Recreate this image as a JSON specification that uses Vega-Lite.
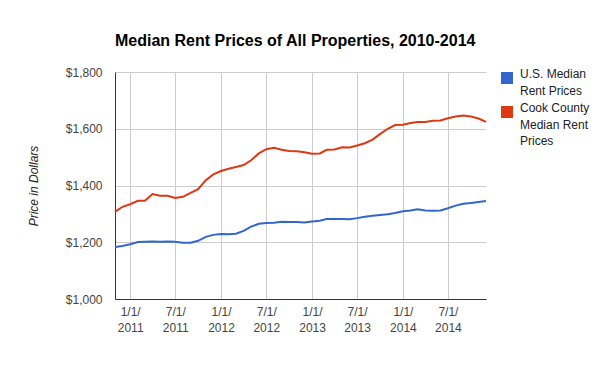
{
  "$schema": "https://vega.github.io/schema/vega-lite/v6.json",
  "width": 371,
  "height": 227,
  "autosize": {"type": "none"},
  "padding": {"left": 115, "top": 72, "right": 114, "bottom": 72},
  "background": "white",
  "config": {"font": "Liberation Sans", "view": {"stroke": null}, "style": {"guide-label": {"lineHeight": 16.5}}},
  "title": {
    "text": "Median Rent Prices of All Properties, 2010-2014",
    "anchor": "start",
    "frame": "group",
    "fontSize": 16,
    "fontWeight": "bold",
    "color": "#000000",
    "font": "Liberation Sans",
    "offset": 17
  },
  "data": {
    "values": [
      {"date": "2010-11-01", "series": "U.S. Median Rent Prices", "price": 1183},
      {"date": "2010-12-01", "series": "U.S. Median Rent Prices", "price": 1187},
      {"date": "2011-01-01", "series": "U.S. Median Rent Prices", "price": 1193},
      {"date": "2011-02-01", "series": "U.S. Median Rent Prices", "price": 1201},
      {"date": "2011-03-01", "series": "U.S. Median Rent Prices", "price": 1202},
      {"date": "2011-04-01", "series": "U.S. Median Rent Prices", "price": 1203},
      {"date": "2011-05-01", "series": "U.S. Median Rent Prices", "price": 1202},
      {"date": "2011-06-01", "series": "U.S. Median Rent Prices", "price": 1203},
      {"date": "2011-07-01", "series": "U.S. Median Rent Prices", "price": 1202},
      {"date": "2011-08-01", "series": "U.S. Median Rent Prices", "price": 1198},
      {"date": "2011-09-01", "series": "U.S. Median Rent Prices", "price": 1198},
      {"date": "2011-10-01", "series": "U.S. Median Rent Prices", "price": 1205},
      {"date": "2011-11-01", "series": "U.S. Median Rent Prices", "price": 1219},
      {"date": "2011-12-01", "series": "U.S. Median Rent Prices", "price": 1226},
      {"date": "2012-01-01", "series": "U.S. Median Rent Prices", "price": 1229},
      {"date": "2012-02-01", "series": "U.S. Median Rent Prices", "price": 1228},
      {"date": "2012-03-01", "series": "U.S. Median Rent Prices", "price": 1230},
      {"date": "2012-04-01", "series": "U.S. Median Rent Prices", "price": 1240},
      {"date": "2012-05-01", "series": "U.S. Median Rent Prices", "price": 1255},
      {"date": "2012-06-01", "series": "U.S. Median Rent Prices", "price": 1265},
      {"date": "2012-07-01", "series": "U.S. Median Rent Prices", "price": 1268},
      {"date": "2012-08-01", "series": "U.S. Median Rent Prices", "price": 1269},
      {"date": "2012-09-01", "series": "U.S. Median Rent Prices", "price": 1272},
      {"date": "2012-10-01", "series": "U.S. Median Rent Prices", "price": 1271},
      {"date": "2012-11-01", "series": "U.S. Median Rent Prices", "price": 1271},
      {"date": "2012-12-01", "series": "U.S. Median Rent Prices", "price": 1270},
      {"date": "2013-01-01", "series": "U.S. Median Rent Prices", "price": 1273},
      {"date": "2013-02-01", "series": "U.S. Median Rent Prices", "price": 1276},
      {"date": "2013-03-01", "series": "U.S. Median Rent Prices", "price": 1282},
      {"date": "2013-04-01", "series": "U.S. Median Rent Prices", "price": 1282},
      {"date": "2013-05-01", "series": "U.S. Median Rent Prices", "price": 1282},
      {"date": "2013-06-01", "series": "U.S. Median Rent Prices", "price": 1281},
      {"date": "2013-07-01", "series": "U.S. Median Rent Prices", "price": 1285},
      {"date": "2013-08-01", "series": "U.S. Median Rent Prices", "price": 1290},
      {"date": "2013-09-01", "series": "U.S. Median Rent Prices", "price": 1293},
      {"date": "2013-10-01", "series": "U.S. Median Rent Prices", "price": 1296},
      {"date": "2013-11-01", "series": "U.S. Median Rent Prices", "price": 1299},
      {"date": "2013-12-01", "series": "U.S. Median Rent Prices", "price": 1303},
      {"date": "2014-01-01", "series": "U.S. Median Rent Prices", "price": 1309},
      {"date": "2014-02-01", "series": "U.S. Median Rent Prices", "price": 1312},
      {"date": "2014-03-01", "series": "U.S. Median Rent Prices", "price": 1316},
      {"date": "2014-04-01", "series": "U.S. Median Rent Prices", "price": 1312},
      {"date": "2014-05-01", "series": "U.S. Median Rent Prices", "price": 1311},
      {"date": "2014-06-01", "series": "U.S. Median Rent Prices", "price": 1312},
      {"date": "2014-07-01", "series": "U.S. Median Rent Prices", "price": 1320},
      {"date": "2014-08-01", "series": "U.S. Median Rent Prices", "price": 1329},
      {"date": "2014-09-01", "series": "U.S. Median Rent Prices", "price": 1336},
      {"date": "2014-10-01", "series": "U.S. Median Rent Prices", "price": 1338},
      {"date": "2014-11-01", "series": "U.S. Median Rent Prices", "price": 1342},
      {"date": "2014-12-01", "series": "U.S. Median Rent Prices", "price": 1345},
      {"date": "2010-11-01", "series": "Cook County Median Rent Prices", "price": 1307},
      {"date": "2010-12-01", "series": "Cook County Median Rent Prices", "price": 1325},
      {"date": "2011-01-01", "series": "Cook County Median Rent Prices", "price": 1334},
      {"date": "2011-02-01", "series": "Cook County Median Rent Prices", "price": 1346},
      {"date": "2011-03-01", "series": "Cook County Median Rent Prices", "price": 1346},
      {"date": "2011-04-01", "series": "Cook County Median Rent Prices", "price": 1370},
      {"date": "2011-05-01", "series": "Cook County Median Rent Prices", "price": 1364},
      {"date": "2011-06-01", "series": "Cook County Median Rent Prices", "price": 1364},
      {"date": "2011-07-01", "series": "Cook County Median Rent Prices", "price": 1356},
      {"date": "2011-08-01", "series": "Cook County Median Rent Prices", "price": 1360},
      {"date": "2011-09-01", "series": "Cook County Median Rent Prices", "price": 1374},
      {"date": "2011-10-01", "series": "Cook County Median Rent Prices", "price": 1387},
      {"date": "2011-11-01", "series": "Cook County Median Rent Prices", "price": 1419},
      {"date": "2011-12-01", "series": "Cook County Median Rent Prices", "price": 1439},
      {"date": "2012-01-01", "series": "Cook County Median Rent Prices", "price": 1451},
      {"date": "2012-02-01", "series": "Cook County Median Rent Prices", "price": 1459},
      {"date": "2012-03-01", "series": "Cook County Median Rent Prices", "price": 1465},
      {"date": "2012-04-01", "series": "Cook County Median Rent Prices", "price": 1472},
      {"date": "2012-05-01", "series": "Cook County Median Rent Prices", "price": 1489},
      {"date": "2012-06-01", "series": "Cook County Median Rent Prices", "price": 1513},
      {"date": "2012-07-01", "series": "Cook County Median Rent Prices", "price": 1528},
      {"date": "2012-08-01", "series": "Cook County Median Rent Prices", "price": 1533},
      {"date": "2012-09-01", "series": "Cook County Median Rent Prices", "price": 1526},
      {"date": "2012-10-01", "series": "Cook County Median Rent Prices", "price": 1522},
      {"date": "2012-11-01", "series": "Cook County Median Rent Prices", "price": 1521},
      {"date": "2012-12-01", "series": "Cook County Median Rent Prices", "price": 1517},
      {"date": "2013-01-01", "series": "Cook County Median Rent Prices", "price": 1512},
      {"date": "2013-02-01", "series": "Cook County Median Rent Prices", "price": 1513},
      {"date": "2013-03-01", "series": "Cook County Median Rent Prices", "price": 1526},
      {"date": "2013-04-01", "series": "Cook County Median Rent Prices", "price": 1527},
      {"date": "2013-05-01", "series": "Cook County Median Rent Prices", "price": 1535},
      {"date": "2013-06-01", "series": "Cook County Median Rent Prices", "price": 1534},
      {"date": "2013-07-01", "series": "Cook County Median Rent Prices", "price": 1541},
      {"date": "2013-08-01", "series": "Cook County Median Rent Prices", "price": 1549},
      {"date": "2013-09-01", "series": "Cook County Median Rent Prices", "price": 1562},
      {"date": "2013-10-01", "series": "Cook County Median Rent Prices", "price": 1581},
      {"date": "2013-11-01", "series": "Cook County Median Rent Prices", "price": 1600},
      {"date": "2013-12-01", "series": "Cook County Median Rent Prices", "price": 1613},
      {"date": "2014-01-01", "series": "Cook County Median Rent Prices", "price": 1614},
      {"date": "2014-02-01", "series": "Cook County Median Rent Prices", "price": 1620},
      {"date": "2014-03-01", "series": "Cook County Median Rent Prices", "price": 1624},
      {"date": "2014-04-01", "series": "Cook County Median Rent Prices", "price": 1624},
      {"date": "2014-05-01", "series": "Cook County Median Rent Prices", "price": 1628},
      {"date": "2014-06-01", "series": "Cook County Median Rent Prices", "price": 1629},
      {"date": "2014-07-01", "series": "Cook County Median Rent Prices", "price": 1637},
      {"date": "2014-08-01", "series": "Cook County Median Rent Prices", "price": 1643},
      {"date": "2014-09-01", "series": "Cook County Median Rent Prices", "price": 1647},
      {"date": "2014-10-01", "series": "Cook County Median Rent Prices", "price": 1643},
      {"date": "2014-11-01", "series": "Cook County Median Rent Prices", "price": 1636},
      {"date": "2014-12-01", "series": "Cook County Median Rent Prices", "price": 1624}
    ]
  },
  "mark": {"type": "line", "strokeWidth": 2},
  "encoding": {
    "x": {
      "field": "date",
      "type": "temporal",
      "scale": {
        "type": "utc",
        "domain": [
          {"year": 2010, "month": 11, "date": 1, "utc": true},
          {"year": 2014, "month": 12, "date": 1, "utc": true}
        ]
      },
      "axis": {
        "title": null,
        "values": [
          {"year": 2011, "month": 1, "date": 1, "utc": true},
          {"year": 2011, "month": 7, "date": 1, "utc": true},
          {"year": 2012, "month": 1, "date": 1, "utc": true},
          {"year": 2012, "month": 7, "date": 1, "utc": true},
          {"year": 2013, "month": 1, "date": 1, "utc": true},
          {"year": 2013, "month": 7, "date": 1, "utc": true},
          {"year": 2014, "month": 1, "date": 1, "utc": true},
          {"year": 2014, "month": 7, "date": 1, "utc": true}
        ],
        "labelExpr": "[utcFormat(datum.value, '%-m/%-d/'), utcFormat(datum.value, '%Y')]",
        "grid": true,
        "gridColor": "#cccccc",
        "domainColor": "#333333",
        "ticks": false,
        "labelColor": "#444444",
        "labelFontSize": 12,
        "labelFont": "Liberation Sans",
        "labelPadding": 7,
        "labelLineHeight": 16,
        "labelOverlap": false,
        "labelFlush": false
      }
    },
    "y": {
      "field": "price",
      "type": "quantitative",
      "scale": {"domain": [1000, 1800], "nice": false, "zero": false},
      "axis": {
        "values": [1000, 1200, 1400, 1600, 1800],
        "format": "$,.0f",
        "grid": true,
        "gridColor": "#cccccc",
        "domainColor": "#333333",
        "ticks": false,
        "labelColor": "#444444",
        "labelFontSize": 12,
        "labelFont": "Liberation Sans",
        "labelPadding": 13,
        "title": "Price in Dollars",
        "titleFont": "Liberation Sans",
        "titleFontStyle": "italic",
        "titleFontWeight": "normal",
        "titleFontSize": 12,
        "titleColor": "#222222",
        "titlePadding": 25
      }
    },
    "color": {
      "field": "series",
      "type": "nominal",
      "scale": {
        "domain": ["U.S. Median Rent Prices", "Cook County Median Rent Prices"],
        "range": ["#3366cc", "#dc3912"]
      },
      "legend": {
        "title": null,
        "orient": "right",
        "offset": 11,
        "symbolType": "square",
        "symbolSize": 36,
        "symbolStrokeWidth": 6,
        "labelFont": "Liberation Sans",
        "labelFontSize": 12,
        "labelColor": "#222222",
        "labelOffset": 7,
        "labelBaseline": "alphabetic",
        "labelLimit": 200,
        "rowPadding": 0,
        "labelExpr": "datum.label == 'U.S. Median Rent Prices' ? ['U.S. Median', 'Rent Prices'] : ['Cook County', 'Median Rent', 'Prices']"
      }
    }
  }
}
